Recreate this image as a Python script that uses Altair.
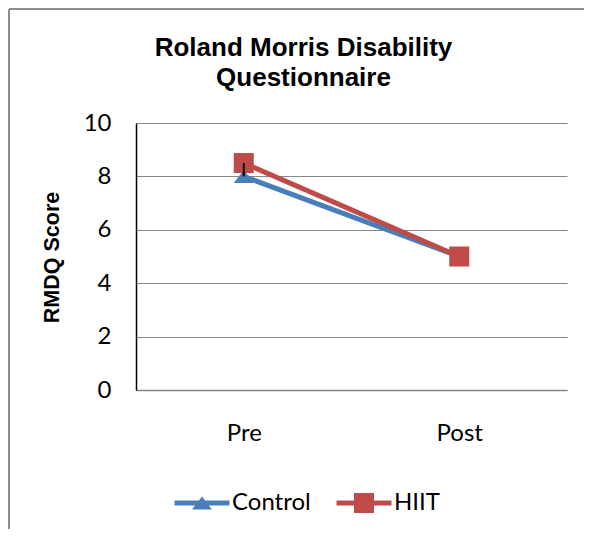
import altair as alt
import pandas as pd

categories = ["Pre", "Post"]
series_names = ["Control", "HIIT"]
control_values = [8.0, 5.0]
hiit_values = [8.5, 5.0]
err_category = ["Pre"]
err_low = [8.0]
err_high = [8.5]
y_ticks = [0, 2, 4, 6, 8, 10]
colors = ["#4A7EBB", "#BE4B48"]

rows = []
for i, c in enumerate(categories):
    rows.append({"phase": c, "series": "Control", "score": control_values[i], "ord": 0})
    rows.append({"phase": c, "series": "HIIT", "score": hiit_values[i], "ord": 1})
df = pd.DataFrame(rows)
err_df = pd.DataFrame({"phase": err_category, "lo": err_low, "hi": err_high})

tri_path = "M0,-0.65L1,0.65H-1Z"
legend_paths = ["M-2.75,-0.25H2.75V0.25H-2.75ZM0,-0.65L1,0.65H-1Z",
                "M-2.75,-0.25H2.75V0.25H-2.75ZM-1,-1H1V1H-1Z"]
legend_x = [54, 216]

x_enc = alt.X("phase:N", sort=categories,
              scale=alt.Scale(type="point", padding=0.5),
              axis=alt.Axis(title=None, labelAngle=0, ticks=False, grid=False,
                            domainColor="#868686", domainWidth=1.5,
                            labelFont="Lato", labelFontSize=24, labelColor="#000",
                            labelPadding=31))
y_enc = alt.Y("score:Q",
              scale=alt.Scale(domain=[0, 10], nice=False),
              axis=alt.Axis(title="RMDQ Score", values=y_ticks, ticks=False,
                            grid=True, gridColor="#868686", gridWidth=1.2,
                            domainColor="#000", domainWidth=1.5,
                            labelFont="Lato", labelFontSize=24, labelColor="#000",
                            labelPadding=25,
                            titleFont="Liberation Sans", titleFontSize=21.5,
                            titleFontWeight="bold", titleColor="#000",
                            titleX=-84, titleY=134, titleAngle=-90,
                            titleAlign="center", titleBaseline="middle"))
color_scale = alt.Scale(domain=series_names, range=colors)

lines = alt.Chart(df).mark_line(strokeWidth=5).encode(
    x=x_enc, y=y_enc,
    color=alt.Color("series:N", scale=color_scale, legend=None),
    order=alt.Order("ord:Q"),
)

points = alt.Chart(df).mark_point(filled=True, size=400, opacity=1).encode(
    x=x_enc, y=y_enc,
    color=alt.Color("series:N", scale=color_scale, legend=None),
    shape=alt.Shape("series:N", scale=alt.Scale(domain=series_names, range=[tri_path, "square"]),
                    legend=None),
    order=alt.Order("ord:Q"),
)

legend_layers = []
for i, name in enumerate(series_names):
    legend_layers.append(
        alt.Chart(df).transform_filter("false").mark_point(
            filled=True, size=400, opacity=1, color=colors[i]).encode(
            x=alt.X("phase:N", sort=categories), y="score:Q",
            shape=alt.Shape("series:N",
                            scale=alt.Scale(domain=[name], range=[legend_paths[i]]),
                            legend=alt.Legend(
                                title=None, orient="none", direction="horizontal",
                                legendX=legend_x[i], legendY=368, padding=0,
                                labelFont="Lato", labelFontSize=24, labelColor="#000",
                                symbolSize=400, symbolOpacity=1,
                                symbolFillColor=colors[i],
                                labelOffset=18)),
        )
    )

err = alt.Chart(err_df).mark_rule(color="#000", strokeWidth=2).encode(
    x=alt.X("phase:N", sort=categories), y="lo:Q", y2="hi:Q")

frame_left = alt.Chart(err_df).mark_rule(color="#8c8c8c", strokeWidth=2).encode(
    x=alt.value(-127), y=alt.value(-114), y2=alt.value(420))
frame_top = alt.Chart(err_df).mark_rule(color="#8c8c8c", strokeWidth=2).encode(
    x=alt.value(-127), x2=alt.value(460), y=alt.value(-114))

chart = alt.layer(lines, points, err, *legend_layers, frame_left, frame_top).resolve_scale(
    shape="independent"
).properties(
    width=431, height=267,
    autosize=alt.AutoSizeParams(type="none"),
    padding={"left": 128, "top": 115, "right": 17, "bottom": 139},
    title=alt.Title(["Roland Morris Disability", "Questionnaire"],
                    font="Liberation Sans", fontSize=26, fontWeight="bold",
                    color="#000", lineHeight=30, anchor="middle", frame="group",
                    dx=-48, offset=-83),
).configure_view(stroke=None)

chart.save("out.html", embed_options={"renderer": "svg", "actions": False})
